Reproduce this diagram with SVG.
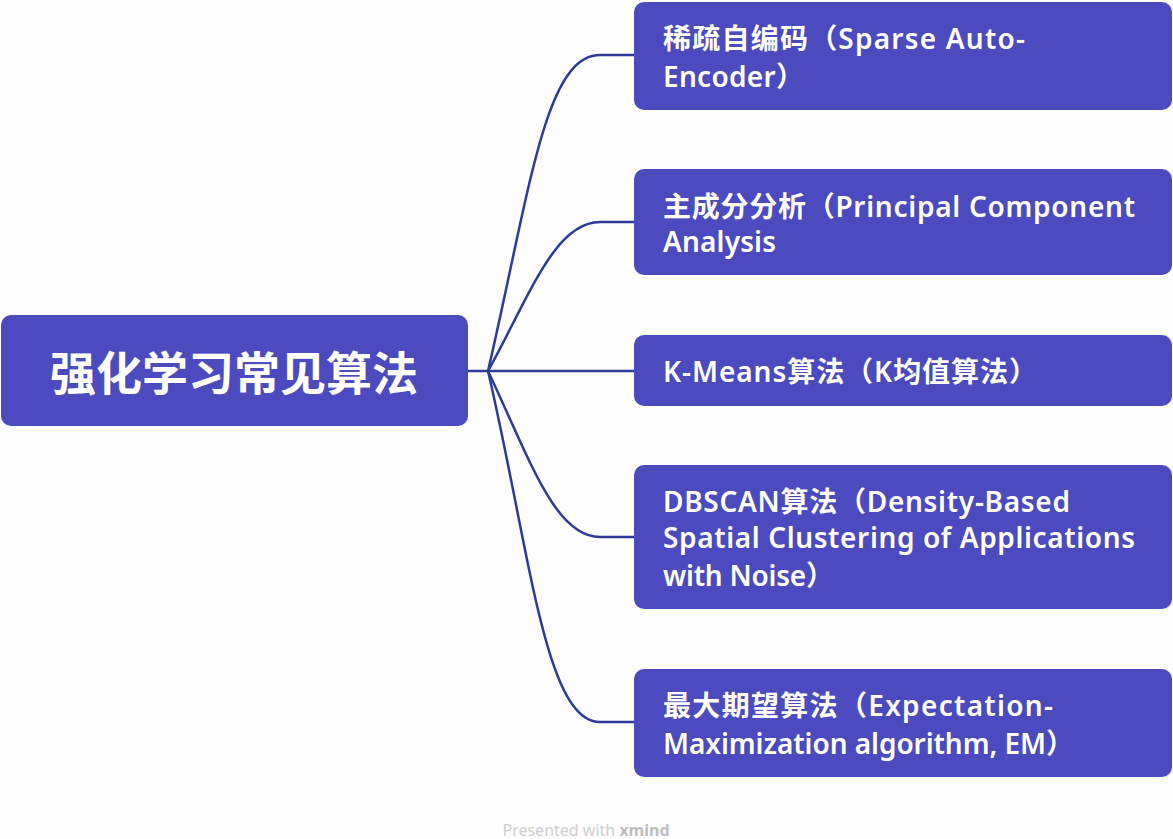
<svg xmlns="http://www.w3.org/2000/svg" width="1173" height="839" viewBox="0 0 1173 839">
  <style>
    .box { fill: #4B4ABE; }
    .root-text { font-family: "Noto Sans", "Noto Sans CJK SC", sans-serif; font-weight: 700; font-size: 46px; fill: #ffffff; }
    .node-text { font-family: "Noto Sans", "Noto Sans CJK SC", sans-serif; font-weight: 600; font-size: 28px; fill: #ffffff; }
    .link { fill: none; stroke: #2E3A98; stroke-width: 2.5; }
    .footer { font-family: "Noto Sans", sans-serif; font-size: 16px; fill: #cfcfcf; }
  </style>
  <rect width="1173" height="839" fill="#fdfdfd"/>

  <!-- connectors -->
  <g id="connectors">
    <path class="link" d="M468,371 H488" stroke-width="3.5"/>
    <path class="link" d="M488,371 C530,190 545,55 600,55 H634"/>
    <path class="link" d="M488,371 C530,295 555,222 600,222 H634"/>
    <path class="link" d="M488,371 H634"/>
    <path class="link" d="M488,371 C530,460 555,537 600,537 H634"/>
    <path class="link" d="M488,371 C530,552 545,722 600,722 H634"/>
  </g>

  <!-- central topic -->
  <g id="root">
    <rect class="box" x="1" y="315" width="467" height="111" rx="10"/>
    <text class="root-text" x="234" y="390" text-anchor="middle" textLength="368" lengthAdjust="spacing">强化学习常见算法</text>
  </g>

  <g id="node-sae">
    <rect class="box" x="634" y="2" width="538" height="108" rx="10"/>
    <text class="node-text" x="663" y="49" textLength="362" lengthAdjust="spacing">稀疏自编码（Sparse Auto-</text>
    <text class="node-text" x="663" y="87" textLength="141" lengthAdjust="spacing">Encoder）</text>
  </g>

  <g id="node-pca">
    <rect class="box" x="634" y="169" width="538" height="106" rx="10"/>
    <text class="node-text" x="663" y="217" textLength="472" lengthAdjust="spacing">主成分分析（Principal Component</text>
    <text class="node-text" x="663" y="252" textLength="113" lengthAdjust="spacing">Analysis</text>
  </g>

  <g id="node-kmeans">
    <rect class="box" x="634" y="335" width="538" height="71" rx="10"/>
    <text class="node-text" x="663" y="382" textLength="374" lengthAdjust="spacing">K-Means算法（K均值算法）</text>
  </g>

  <g id="node-dbscan">
    <rect class="box" x="634" y="465" width="538" height="144" rx="10"/>
    <text class="node-text" x="663" y="512" textLength="407" lengthAdjust="spacing">DBSCAN算法（Density-Based</text>
    <text class="node-text" x="663" y="548" textLength="472" lengthAdjust="spacing">Spatial Clustering of Applications</text>
    <text class="node-text" x="663" y="586" textLength="171" lengthAdjust="spacing">with Noise）</text>
  </g>

  <g id="node-em">
    <rect class="box" x="634" y="669" width="538" height="108" rx="10"/>
    <text class="node-text" x="663" y="716" textLength="390" lengthAdjust="spacing">最大期望算法（Expectation-</text>
    <text class="node-text" x="663" y="754" textLength="411" lengthAdjust="spacing">Maximization algorithm, EM）</text>
  </g>

  <text class="footer" x="586" y="836" text-anchor="middle">Presented with <tspan font-weight="700" fill="#bdbdbd">xmind</tspan></text>
</svg>
